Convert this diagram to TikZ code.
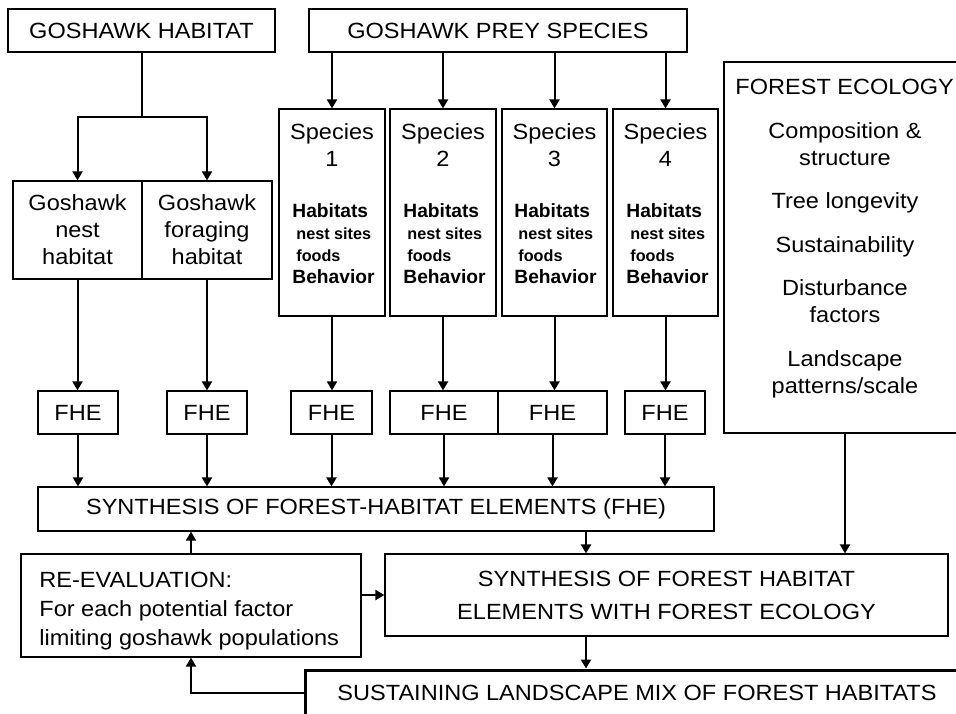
\documentclass[tikz,border=0pt]{standalone}
\usepackage{fontspec}
\setmainfont{Liberation Sans}[FakeStretch=1.07]
\newfontfamily\habfamily{Liberation Sans}
\usetikzlibrary{arrows.meta}

\newcommand\boxfont{\fontsize{11}{13.5}\selectfont}
\newcommand\spfont{\habfamily\bfseries\fontsize{9.6}{11}\selectfont}
\newcommand\subfont{\fontsize{8.1}{11}\selectfont}

\begin{document}
\begin{tikzpicture}[x=0.5pt, y=-0.5pt, >={Triangle[length=4.5pt,width=5pt]},
    blk/.style={draw, line width=0.6pt, inner sep=0pt, align=center, font=\boxfont},
    txt/.style={inner sep=0pt, font=\boxfont},
    flow/.style={->, line width=1pt}]
  \clip (0,0) rectangle (956,713);
  % top row
  \node[blk, minimum width=133.5pt, minimum height=21.5pt] (hab) at (141.5,30.5) {GOSHAWK HABITAT};
  \node[blk, minimum width=189pt, minimum height=21.5pt] (prey) at (498,30.5) {GOSHAWK PREY SPECIES};
  % goshawk habitat
  \node[blk, minimum width=64.5pt, minimum height=49pt] (nest) at (77.5,230) {Goshawk\\nest\\habitat};
  \node[blk, minimum width=65pt, minimum height=49pt] (forage) at (207,230) {Goshawk\\foraging\\habitat};
  % prey species
  \node[blk, minimum width=53pt, minimum height=103.5pt] (sp1) at (332,212.5) {};
  \node[blk, minimum width=53pt, minimum height=103.5pt] (sp2) at (443,212.5) {};
  \node[blk, minimum width=52.5pt, minimum height=103.5pt] (sp3) at (554.5,212.5) {};
  \node[blk, minimum width=52.5pt, minimum height=103.5pt] (sp4) at (665.5,212.5) {};
  \node[txt, align=center, anchor=north] (sp1n) at (332,123) {Species\\1};
  \node[txt, align=center, anchor=north] (sp2n) at (443,123) {Species\\2};
  \node[txt, align=center, anchor=north] (sp3n) at (554.5,123) {Species\\3};
  \node[txt, align=center, anchor=north] (sp4n) at (665.5,123) {Species\\4};
  \node[txt, align=left, anchor=north west, font=\spfont] (sp1t) at (292,203) {Habitats\\\hspace{2pt}{\subfont nest sites}\\\hspace{2pt}{\subfont foods}\\Behavior};
  \node[txt, align=left, anchor=north west, font=\spfont] (sp2t) at (403,203) {Habitats\\\hspace{2pt}{\subfont nest sites}\\\hspace{2pt}{\subfont foods}\\Behavior};
  \node[txt, align=left, anchor=north west, font=\spfont] (sp3t) at (514,203) {Habitats\\\hspace{2pt}{\subfont nest sites}\\\hspace{2pt}{\subfont foods}\\Behavior};
  \node[txt, align=left, anchor=north west, font=\spfont] (sp4t) at (626,203) {Habitats\\\hspace{2pt}{\subfont nest sites}\\\hspace{2pt}{\subfont foods}\\Behavior};
  % forest ecology
  \node[blk, minimum width=121pt, minimum height=185.5pt] (eco) at (845,247.5) {};
  \node[txt, anchor=base west] (ecot) at (735,94) {FOREST ECOLOGY};
  \node[txt, align=center, anchor=north] (ecol) at (845,122) {Composition \&\\structure\\[8.25pt]Tree longevity\\[8.25pt]Sustainability\\[8.25pt]Disturbance\\factors\\[8.25pt]Landscape\\patterns/scale};
  % forest-habitat elements
  \node[blk, minimum width=40pt, minimum height=21.5pt] (f1) at (78,412.5) {FHE};
  \node[blk, minimum width=40pt, minimum height=21.5pt] (f2) at (207,412.5) {FHE};
  \node[blk, minimum width=40.5pt, minimum height=21.5pt] (f3) at (331.5,412.5) {FHE};
  \node[blk, minimum width=54pt, minimum height=21.5pt] (f4) at (444,412.5) {FHE};
  \node[blk, minimum width=54.5pt, minimum height=21.5pt] (f5) at (552.5,412.5) {FHE};
  \node[blk, minimum width=40pt, minimum height=21.5pt] (f6) at (665,412.5) {FHE};
  % synthesis
  \node[blk, minimum width=338pt, minimum height=22pt] (synth) at (376,509) {SYNTHESIS OF FOREST-HABITAT ELEMENTS (FHE)};
  \node[blk, minimum width=170pt, minimum height=51.5pt] (reeval) at (191,605.5) {};
  \node[txt, align=left, anchor=north west, font=\fontsize{11}{14.5}\selectfont] (reevalt) at (39,572) {RE-EVALUATION:\\For each potential factor\\limiting goshawk populations};
  \node[blk, minimum width=281.5pt, minimum height=41pt, font=\fontsize{11}{16.5}\selectfont] (synth2) at (666.5,595) {SYNTHESIS OF FOREST HABITAT\\ELEMENTS WITH FOREST ECOLOGY};
  \node[blk, line width=1.5pt, minimum width=332pt, minimum height=23pt] (sust) at (637,693) {SUSTAINING LANDSCAPE MIX OF FOREST HABITATS};
  \coordinate (split) at ([yshift=-32pt]hab.south);
  \coordinate (col) at (586,0);
  % connectors
  \draw[line width=1pt] (hab.south) -- (split);
  \draw[flow] (split) -| (nest.north);
  \draw[flow] (split) -| (forage.north);
  \draw[flow] (sp1.north |- prey.south) -- (sp1.north);
  \draw[flow] (sp2.north |- prey.south) -- (sp2.north);
  \draw[flow] (sp3.north |- prey.south) -- (sp3.north);
  \draw[flow] (sp4.north |- prey.south) -- (sp4.north);
  \draw[flow] (nest.south) -- (nest.south |- f1.north);
  \draw[flow] (forage.south) -- (forage.south |- f2.north);
  \draw[flow] (sp1.south) -- (sp1.south |- f3.north);
  \draw[flow] (sp2.south) -- (sp2.south |- f4.north);
  \draw[flow] (sp3.south) -- (sp3.south |- f5.north);
  \draw[flow] (sp4.south) -- (sp4.south |- f6.north);
  \draw[flow] (f1.south) -- (f1.south |- synth.north);
  \draw[flow] (f2.south) -- (f2.south |- synth.north);
  \draw[flow] (f3.south) -- (f3.south |- synth.north);
  \draw[flow] (f4.south) -- (f4.south |- synth.north);
  \draw[flow] (f5.south) -- (f5.south |- synth.north);
  \draw[flow] (f6.south) -- (f6.south |- synth.north);
  \draw[flow] (reeval.north) -- (reeval.north |- synth.south);
  \draw[flow] (synth2.west -| reeval.east) -- (synth2.west);
  \draw[flow] (synth.south -| col) -- (synth2.north -| col);
  \draw[flow] (eco.south) -- (eco.south |- synth2.north);
  \draw[flow] (synth2.south -| col) -- (sust.north -| col);
  \draw[flow] (sust.west) -| (reeval.south);
\end{tikzpicture}
\end{document}
